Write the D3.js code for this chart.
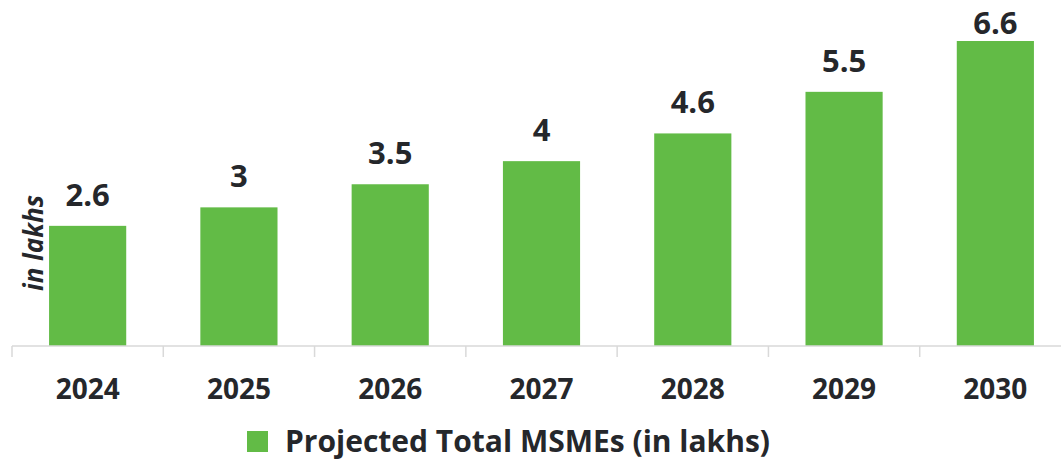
<!DOCTYPE html>
<html>
<head>
<meta charset="utf-8">
<script src="https://cdn.jsdelivr.net/npm/d3@7"></script>
<style>
  body { margin: 0; background: #fff; }
  svg { display: block; font-family: "Open Sans", "Noto Sans", sans-serif; }
</style>
</head>
<body>
<svg id="chart" width="1061" height="462"></svg>
<script>
const years = ["2024", "2025", "2026", "2027", "2028", "2029", "2030"];
const msmes = [2.6, 3, 3.5, 4, 4.6, 5.5, 6.6];
const seriesName = "Projected Total MSMEs (in lakhs)";
const axisTitle = "in lakhs";

const width = 1061, height = 462;
const barColor = "#62bb46";
const textColor = "#25272b";

const svg = d3.select("#chart");

const x = d3.scaleBand().domain(years).range([12, 1071]).paddingInner(0.49).paddingOuter(0.245);
const y = d3.scaleLinear().domain([0, 6.6]).range([346, 41]);

// bars
svg.selectAll("rect.bar").data(years).enter().append("rect")
    .attr("class", "bar")
    .attr("x", d => x(d))
    .attr("y", (d, i) => y(msmes[i]))
    .attr("width", x.bandwidth())
    .attr("height", (d, i) => y(0) - y(msmes[i]))
    .attr("fill", barColor);

// value labels (kept inside the top edge, like the original)
svg.selectAll("text.val").data(years).enter().append("text")
    .attr("class", "val")
    .attr("x", d => x(d) + x.bandwidth() / 2)
    .attr("y", (d, i) => Math.max(y(msmes[i]) - 20, 34))
    .attr("text-anchor", "middle")
    .attr("font-size", 31)
    .attr("font-weight", 700)
    .attr("fill", textColor)
    .text((d, i) => msmes[i]);

// x axis
const xAxis = d3.axisBottom(x).tickSize(0).tickPadding(0);
const gx = svg.append("g").attr("transform", `translate(0,${y(0)})`).call(xAxis);
gx.select(".domain").attr("stroke", "#d9d9d9").attr("stroke-width", 1.5).attr("d", `M12,0H1061`);
gx.selectAll(".tick text")
    .attr("y", 53)
    .attr("dy", 0)
    .attr("font-size", 28)
    .attr("font-weight", 700)
    .attr("font-family", "Open Sans, Noto Sans, sans-serif")
    .attr("fill", textColor);
// category boundary ticks
const step = x.step();
const bounds = d3.range(years.length).map(i => 12 + i * step);
svg.selectAll("line.bound").data(bounds).enter().append("line")
    .attr("class", "bound")
    .attr("x1", d => d).attr("x2", d => d)
    .attr("y1", y(0)).attr("y2", y(0) + 11)
    .attr("stroke", "#d9d9d9").attr("stroke-width", 1.5);

// y axis title
svg.append("text")
    .attr("transform", "translate(43,243) rotate(-90)")
    .attr("text-anchor", "middle")
    .attr("font-size", 26)
    .attr("font-weight", 700)
    .attr("font-style", "italic")
    .attr("fill", textColor)
    .text(axisTitle);

// legend
const legend = svg.append("g").attr("transform", "translate(247,431)");
legend.append("rect").attr("width", 21).attr("height", 21).attr("fill", barColor);
legend.append("text")
    .attr("x", 38).attr("y", 21)
    .attr("font-size", 30)
    .attr("font-weight", 700)
    .attr("fill", textColor)
    .text(seriesName);
</script>
</body>
</html>
